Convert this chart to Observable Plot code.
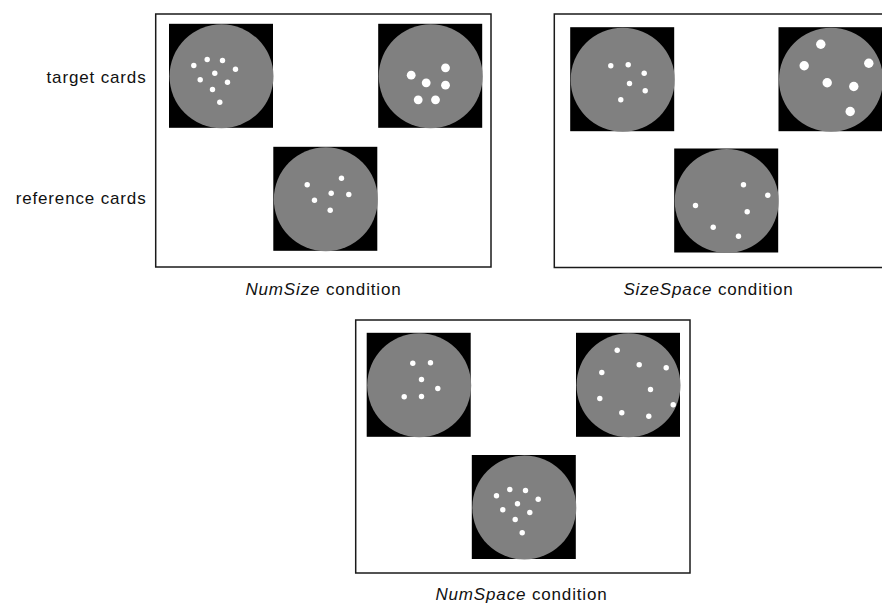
<!DOCTYPE html>
<html>
<head>
<meta charset="utf-8">
<script src="https://cdn.jsdelivr.net/npm/d3@7"></script>
<script src="https://cdn.jsdelivr.net/npm/@observablehq/plot@0.6"></script>
<style>
  html, body { margin: 0; padding: 0; background: #fff; }
  #chart svg { display: block; }
</style>
</head>
<body>
<div id="chart"></div>
<script>
// ---- data: dot positions on each card (pixel offsets from the card centre) ----
const numSizeTarget1 = [[-27.7,-10.8],[-14.3,-16.8],[1,-15.8],[14,-7.1],[-6.7,-3.1],[-21.3,3.5],[6,5.9],[-9,13.2],[-1.7,25.9]];
const numSizeTarget2 = [[-19.5,-1.1],[14.8,-8.5],[-4.5,6.5],[14.8,8.9],[-12.5,23.5],[4.8,23.5]];
const numSizeReference = [[-18.6,-14.5],[15.7,-21.1],[5.4,-6.1],[23,-4.8],[-11.3,0.9],[4.4,10.9]];
const sizeSpaceTarget1 = [[-11.9,-13.9],[5.5,-14.9],[21.5,-6.5],[6.8,3.8],[22.5,11.1],[-1.9,20.1]];
const sizeSpaceTarget2 = [[-10.2,-35.5],[-26.8,-13.9],[37.8,-16.5],[-3.8,3.1],[22.8,6.8],[19.2,31.8]];
const sizeSpaceReference = [[16.8,-16.2],[41.1,-5.8],[-31.2,4.5],[20.5,10.8],[-13.5,26.2],[11.8,35.2]];
const numSpaceTarget1 = [[-6.4,-22.1],[11.3,-22.5],[2.3,-5.8],[18.6,3.2],[-15,11.5],[2.3,11.2]];
const numSpaceTarget2 = [[-11.3,-35.1],[10.7,-20.5],[37.7,-17.5],[-26.7,-12.8],[22,4.2],[-28.7,13.2],[44.7,19.5],[-6.7,27.5],[20.3,30.9]];
const numSpaceReference = [[-27.8,-11.7],[-14.5,-18],[1.2,-17],[13.9,-8.3],[-6.8,-3.7],[-21.5,2.3],[5.5,5],[-9.1,12],[-2.1,25.3]];

const conditions = ["NumSize", "SizeSpace", "NumSpace"];
const rowLabels = ["target cards", "reference cards"];
const captionSuffix = " condition";

// ---- layout (diagram geometry, kept apart from the data) ----
const W = 882, H = 605, HALF = 52;
const panels = [
  {x1: 155.7, x2: 491, y1: 14,  y2: 267,   cap: 323, capY: 294},
  {x1: 554.3, x2: 890, y1: 14,  y2: 267.5, cap: 708, capY: 294},
  {x1: 355.7, x2: 690, y1: 320, y2: 573,   cap: 521, capY: 599}
];
const cards = [
  {cx: 221,   cy: 75.8,  r: 2.7, dots: numSizeTarget1},
  {cx: 430.2, cy: 75.8,  r: 4.4, dots: numSizeTarget2},
  {cx: 325.3, cy: 198.8, r: 2.7, dots: numSizeReference},
  {cx: 622.2, cy: 79.2,  r: 2.7, dots: sizeSpaceTarget1},
  {cx: 830.5, cy: 79.2,  r: 4.7, dots: sizeSpaceTarget2},
  {cx: 726.2, cy: 200.5, r: 2.7, dots: sizeSpaceReference},
  {cx: 418.7, cy: 384.8, r: 2.7, dots: numSpaceTarget1},
  {cx: 628,   cy: 384.8, r: 2.7, dots: numSpaceTarget2},
  {cx: 523.8, cy: 507,   r: 2.7, dots: numSpaceReference}
];
const rowLabelPos = [{x: 146, y: 82}, {x: 146, y: 203}];

const allDots = cards.flatMap(c => c.dots.map(([dx, dy]) => ({x: c.cx + dx, y: c.cy + dy, r: c.r})));
const labels = rowLabels.map((t, i) => ({text: t, ...rowLabelPos[i]}));
const captions = panels.map((p, i) => ({text: conditions[i] + captionSuffix, x: p.cap, y: p.capY}));

const font = "'Liberation Sans', Arial, Helvetica, sans-serif";

const chart = Plot.plot({
  width: W,
  height: H,
  margin: 0,
  x: {domain: [0, W], range: [0, W], axis: null},
  y: {domain: [0, H], range: [0, H], axis: null},
  r: {type: "identity"},
  style: {fontFamily: font, background: "#fff", letterSpacing: "0.85px"},
  marks: [
    Plot.rect(panels, {x1: "x1", x2: "x2", y1: "y1", y2: "y2", fill: "none", stroke: "#1a1a1a", strokeWidth: 1.5}),
    Plot.rect(cards, {x1: d => d.cx - HALF, x2: d => d.cx + HALF, y1: d => d.cy - HALF, y2: d => d.cy + HALF, fill: "#000"}),
    Plot.dot(cards, {x: "cx", y: "cy", r: HALF, fill: "#808080"}),
    Plot.dot(allDots, {x: "x", y: "y", r: "r", fill: "#fff"}),
    Plot.text(labels, {x: "x", y: "y", text: "text", textAnchor: "end", lineAnchor: "bottom", fontSize: 17, fill: "#111"}),
    Plot.text(captions, {x: "x", y: "y", text: "text", textAnchor: "middle", lineAnchor: "bottom", fontSize: 17, fill: "#111"})
  ]
});

// italicise the condition name inside each caption
chart.querySelectorAll("text").forEach(t => {
  const s = t.textContent;
  const m = s.match(/^(\S+)( condition)$/);
  if (!m) return;
  while (t.firstChild) t.removeChild(t.firstChild);
  const ns = "http://www.w3.org/2000/svg";
  const a = document.createElementNS(ns, "tspan");
  a.setAttribute("font-style", "italic");
  a.textContent = m[1];
  const b = document.createElementNS(ns, "tspan");
  b.textContent = m[2];
  t.appendChild(a); t.appendChild(b);
});

document.getElementById("chart").appendChild(chart);
</script>
</body>
</html>
